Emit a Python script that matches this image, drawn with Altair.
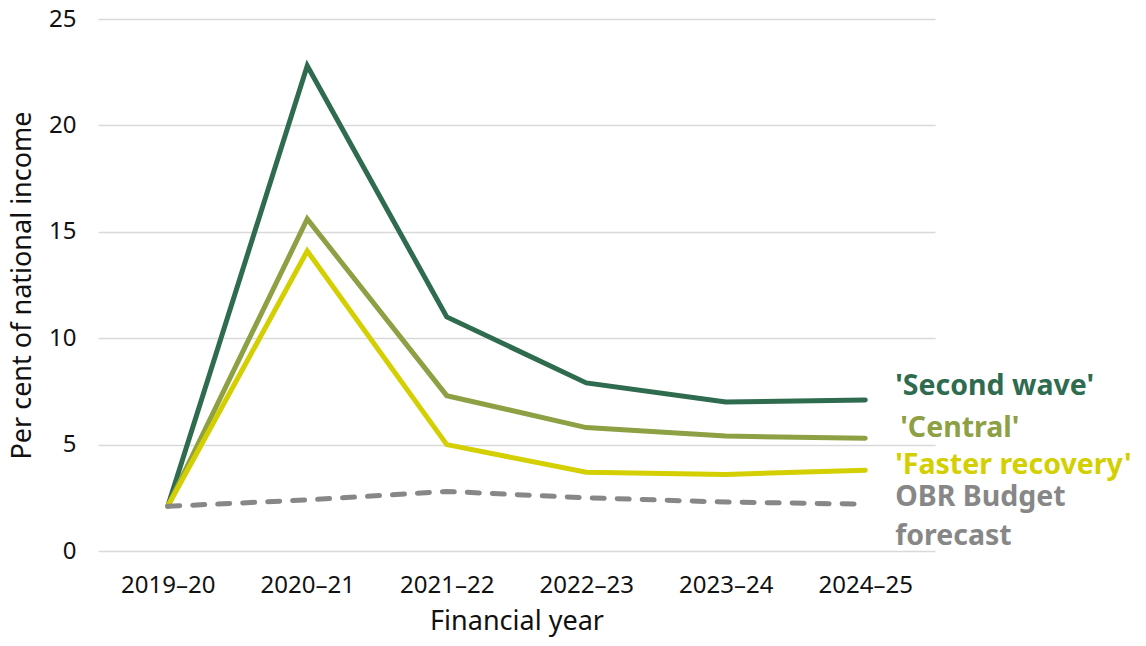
import altair as alt
import pandas as pd

years = ["2019–20", "2020–21", "2021–22", "2022–23", "2023–24", "2024–25"]
second_wave = [2.1, 22.8, 11.0, 7.9, 7.0, 7.1]
central = [2.1, 15.6, 7.3, 5.8, 5.4, 5.3]
faster = [2.1, 14.1, 5.0, 3.7, 3.6, 3.8]
obr = [2.1, 2.4, 2.8, 2.5, 2.3, 2.2]

series_names = ["'Second wave'", "'Central'", "'Faster recovery'", "OBR Budget forecast"]
series_values = [second_wave, central, faster, obr]
colors = ["#2F6B4F", "#8EA044", "#D3CF00", "#878787"]

rows = []
for name, vals in zip(series_names, series_values):
    for yr, v in zip(years, vals):
        rows.append({"year": yr, "value": v, "series": name})
df = pd.DataFrame(rows)

label_text = ["'Second wave'", "'Central'", "'Faster recovery'", "OBR Budget", "forecast"]
label_y = [7.75, 5.78, 4.04, 2.55, 0.72]
label_series = ["'Second wave'", "'Central'", "'Faster recovery'", "OBR Budget forecast", "OBR Budget forecast"]
label_dx = [30, 35, 30, 30, 30]
labels = pd.DataFrame({"text": label_text, "y": label_y, "series": label_series,
                       "dx": label_dx, "year": [years[-1]] * len(label_text)})

FONT = "Noto Sans"
x_scale = alt.Scale(domain=years, type="point", padding=0.5)
x_enc = alt.X("year:N", sort=years, title="Financial year", scale=x_scale,
              axis=alt.Axis(labelAngle=0, labelAlign="center", labelFontSize=24, titleFontSize=27,
                            labelPadding=22, titlePadding=11, domain=False, ticks=False,
                            grid=False, labelColor="#111111", titleColor="#111111",
                            labelFont=FONT, titleFont=FONT, titleFontWeight="normal"))
y_enc = alt.Y("value:Q", title="Per cent of national income",
              scale=alt.Scale(domain=[0, 25], nice=False),
              axis=alt.Axis(values=[0, 5, 10, 15, 20, 25], labelFontSize=24, titleFontSize=27,
                            labelPadding=22, titlePadding=12, domain=False, ticks=False,
                            gridColor="#D9D9D9", gridWidth=1.5, labelColor="#111111",
                            titleColor="#111111", labelFont=FONT, titleFont=FONT,
                            titleFontWeight="normal"))
color_scale = alt.Scale(domain=series_names, range=colors)

solid = alt.Chart(df[df.series != "OBR Budget forecast"]).mark_line(
    strokeWidth=5, strokeJoin="miter", strokeCap="round").encode(
    x=x_enc, y=y_enc,
    color=alt.Color("series:N", scale=color_scale, legend=None),
    order=alt.Order("series:N"),
)
dashed = alt.Chart(df[df.series == "OBR Budget forecast"]).mark_line(
    strokeWidth=5, strokeDash=[12, 13], strokeCap="round").encode(
    x=alt.X("year:N", sort=years, scale=x_scale),
    y="value:Q",
    color=alt.Color("series:N", scale=color_scale, legend=None),
)

text_layers = []
for i in range(len(label_text)):
    t = alt.Chart(labels.iloc[[i]]).mark_text(
        align="left", baseline="middle", fontSize=28.5, fontWeight="bold", font=FONT,
        dx=label_dx[i]).encode(
        x=alt.X("year:N", sort=years, scale=x_scale),
        y=alt.Y("y:Q"),
        text="text:N",
        color=alt.Color("series:N", scale=color_scale, legend=None),
    )
    text_layers.append(t)

chart = alt.layer(solid, dashed, *text_layers).properties(
    width=837, height=532,
    autosize=alt.AutoSizeParams(type="none"),
    padding={"left": 90, "top": 11, "right": 203, "bottom": 87},
    background="white",
).configure_view(stroke=None)

chart.save("out.html", embed_options={"renderer": "svg", "actions": False})
